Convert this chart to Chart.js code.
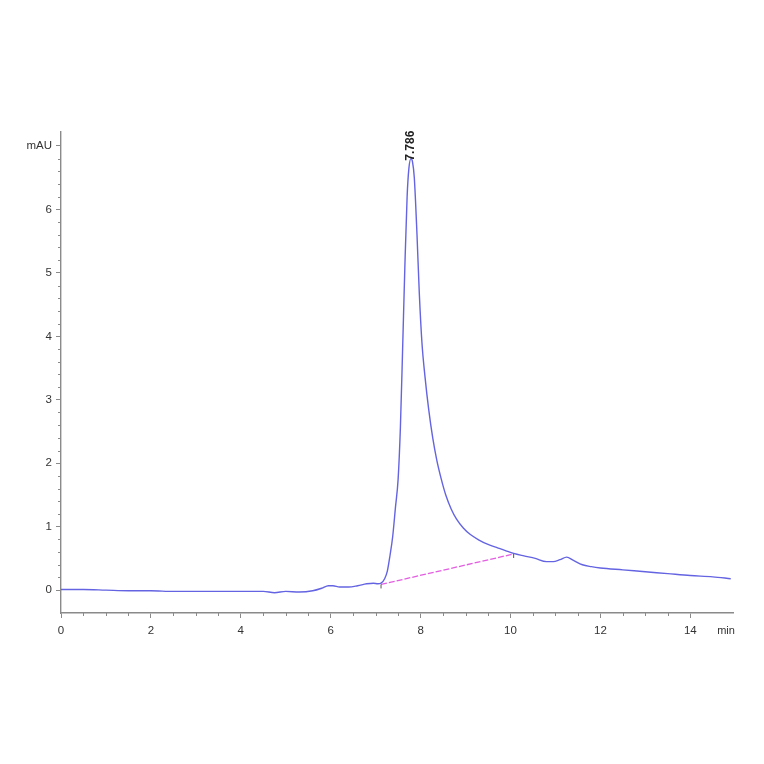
<!DOCTYPE html>
<html>
<head>
<meta charset="utf-8">
<script src="https://cdn.jsdelivr.net/npm/chart.js@4.4.1/dist/chart.umd.min.js"></script>
<style>
  html, body { margin: 0; padding: 0; background: #fff; }
  #wrap { width: 764px; height: 764px; }
</style>
</head>
<body>
<div id="wrap"><canvas id="chromChart" width="764" height="764"></canvas></div>
<script>
// retention time (min) and absorbance (mAU)
const times = [0, 0.5, 1, 1.5, 2, 2.5, 3, 3.5, 4, 4.5,
  4.75, 5, 5.3, 5.6, 5.8, 5.95, 6.05, 6.2, 6.4, 6.6,
  6.8, 6.95, 7.05, 7.12, 7.2, 7.26, 7.32, 7.38, 7.44, 7.5,
  7.55, 7.6, 7.65, 7.7, 7.74, 7.786, 7.82, 7.86, 7.92, 7.97,
  8.03, 8.1, 8.18, 8.27, 8.36, 8.46, 8.56, 8.68, 8.8, 8.95,
  9.1, 9.3, 9.5, 9.7, 9.9, 10.07, 10.3, 10.55, 10.8, 10.95,
  11.1, 11.25, 11.4, 11.6, 11.8, 12.0, 12.5, 13.0, 13.5, 14.0,
  14.5, 14.9];
const signal = [0.01, 0.01, 0.0, -0.01, -0.01, -0.02, -0.02, -0.02, -0.02, -0.02,
  -0.04, -0.02, -0.03, -0.01, 0.03, 0.07, 0.07, 0.05, 0.05, 0.07,
  0.10, 0.11, 0.10, 0.11, 0.18, 0.30, 0.55, 0.85, 1.3, 1.75,
  2.55, 3.8, 5.1, 6.2, 6.65, 6.8, 6.75, 6.5, 5.6, 4.7,
  3.9, 3.35, 2.85, 2.4, 2.05, 1.75, 1.5, 1.28, 1.12, 0.98,
  0.88, 0.79, 0.72, 0.67, 0.62, 0.58, 0.54, 0.50, 0.45, 0.45,
  0.48, 0.52, 0.47, 0.40, 0.37, 0.35, 0.32, 0.29, 0.26, 0.23,
  0.21, 0.18];

// integration baseline under the main peak
const baseTimes = [7.12, 10.07];
const baseValues = [0.09, 0.57];

const peakTime = 7.786;
const peakLabel = '7.786';

const xTickLabels = [0, 2, 4, 6, 8, 10, 12, 14];
const yTickLabels = [0, 1, 2, 3, 4, 5, 6];
const yUnitLabel = 'mAU';
const xUnitLabel = 'min';

const axisGray = '#8a8a8a';
const textGray = '#333333';

function isNear(v, list) {
  return list.some(t => Math.abs(v - t) < 1e-6);
}
function onStep(v, step) {
  const r = v / step;
  return Math.abs(r - Math.round(r)) < 1e-6;
}
function isWhole(v) {
  return Math.abs(v - Math.round(v)) < 1e-6;
}

// minor ticks + peak annotation + axis unit
const extrasPlugin = {
  id: 'extras',
  afterDraw(chart) {
    const ctx = chart.ctx;
    const xs = chart.scales.x;
    const ys = chart.scales.y;
    ctx.save();
    ctx.strokeStyle = axisGray;
    ctx.lineWidth = 1;
    // short minor ticks
    ys.ticks.forEach(t => {
      if (isWhole(t.value)) return;
      const py = Math.round(ys.getPixelForValue(t.value)) + 0.5;
      ctx.beginPath();
      ctx.moveTo(xs.left - 3, py);
      ctx.lineTo(xs.left, py);
      ctx.stroke();
    });
    xs.ticks.forEach(t => {
      if (isNear(t.value, xTickLabels)) return;
      const px = Math.round(xs.getPixelForValue(t.value)) + 0.5;
      ctx.beginPath();
      ctx.moveTo(px, ys.bottom);
      ctx.lineTo(px, ys.bottom + 3);
      ctx.stroke();
    });

    // little drop marks at the baseline ends
    ctx.strokeStyle = '#555';
    baseTimes.forEach((bt, i) => {
      const px = xs.getPixelForValue(bt);
      const py = ys.getPixelForValue(baseValues[i]);
      ctx.beginPath();
      ctx.moveTo(px, py);
      ctx.lineTo(px, py + 4);
      ctx.stroke();
    });

    // rotated retention time above the peak
    const pi = times.indexOf(peakTime);
    const px = xs.getPixelForValue(peakTime);
    const py = ys.getPixelForValue(signal[pi]);
    ctx.translate(px, py + 2);
    ctx.rotate(-Math.PI / 2);
    ctx.fillStyle = '#222';
    ctx.font = 'bold 12px "Liberation Sans", Arial, sans-serif';
    ctx.textAlign = 'left';
    ctx.textBaseline = 'middle';
    ctx.fillText(peakLabel, 0, 0);
    ctx.setTransform(1, 0, 0, 1, 0, 0);
    ctx.restore();

    ctx.save();
    ctx.fillStyle = textGray;
    ctx.font = '11px "Liberation Sans", Arial, sans-serif';
    ctx.textAlign = 'center';
    ctx.textBaseline = 'top';
    ctx.fillText(xUnitLabel, xs.right - 7, ys.bottom + 12);
    ctx.restore();
  }
};

const ctx = document.getElementById('chromChart').getContext('2d');

new Chart(ctx, {
  type: 'line',
  data: {
    datasets: [
      {
        label: 'signal',
        data: times.map((t, i) => ({ x: t, y: signal[i] })),
        borderColor: '#6464e2',
        borderWidth: 1.4,
        pointRadius: 0,
        fill: false,
        cubicInterpolationMode: 'monotone'
      },
      {
        label: 'baseline',
        data: baseTimes.map((t, i) => ({ x: t, y: baseValues[i] })),
        borderColor: '#e35ee0',
        borderWidth: 1.3,
        borderDash: [6, 2],
        pointRadius: 0,
        fill: false
      }
    ]
  },
  plugins: [extrasPlugin],
  options: {
    responsive: false,
    animation: false,
    layout: {
      autoPadding: false,
      padding: { left: 0, right: 31, top: 132, bottom: 111 }
    },
    plugins: {
      legend: { display: false },
      tooltip: { enabled: false }
    },
    scales: {
      x: {
        type: 'linear',
        min: 0,
        max: 14.95,
        afterFit(scale) { scale.height = 40; },
        afterBuildTicks(scale) {
          scale.ticks = scale.ticks.filter(t => onStep(t.value, 0.5));
        },
        border: { display: true, color: axisGray, width: 1.6 },
        grid: {
          drawOnChartArea: false,
          drawTicks: true,
          tickLength: 5,
          tickColor: c => isNear(c.tick.value, xTickLabels) ? axisGray : 'rgba(0,0,0,0)'
        },
        ticks: {
          stepSize: 0.5,
          autoSkip: false,
          maxRotation: 0,
          padding: 6,
          color: textGray,
          font: { family: '"Liberation Sans", Arial, sans-serif', size: 11.5 },
          callback: v => isNear(v, xTickLabels) ? String(Math.round(v)) : ''
        }
      },
      y: {
        type: 'linear',
        min: -0.36,
        max: 7.22,
        afterFit(scale) { scale.width = 61; },
        afterBuildTicks(scale) {
          scale.ticks = scale.ticks.filter(t => onStep(t.value, 0.2));
        },
        border: { display: true, color: axisGray, width: 1.4 },
        grid: {
          drawOnChartArea: false,
          drawTicks: true,
          tickLength: 5,
          tickColor: c => isWhole(c.tick.value) ? axisGray : 'rgba(0,0,0,0)'
        },
        ticks: {
          stepSize: 0.2,
          autoSkip: false,
          padding: 4,
          color: textGray,
          font: { family: '"Liberation Sans", Arial, sans-serif', size: 11.5 },
          callback: v => {
            if (Math.abs(v - 7) < 1e-6) return yUnitLabel;
            return isNear(v, yTickLabels) ? String(Math.round(v)) : '';
          }
        }
      }
    }
  }
});
</script>
</body>
</html>
